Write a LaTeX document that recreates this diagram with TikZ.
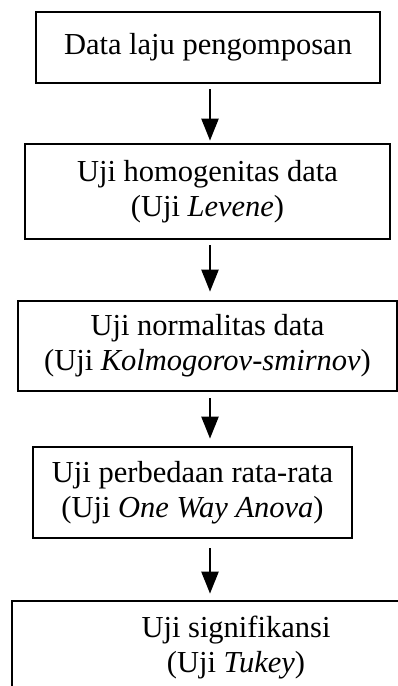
\documentclass[tikz,border=0pt]{standalone}
\usepackage{fontspec}
\setmainfont{Liberation Serif}
\usetikzlibrary{arrows.meta}
\begin{document}
\begin{tikzpicture}[x=1pt,y=-1pt,
  box/.style={draw=black,line width=2.7pt,inner sep=0pt,align=center,
    font=\fontsize{30.5}{35}\selectfont},
  arr/.style={line width=2.2pt,-{Triangle[width=17pt,length=22pt]}}]
\useasboundingbox (0,0) rectangle (398,686);
\node[box,minimum width=344pt,minimum height=71pt] (b1) at (208,47.5) {Data laju pengomposan};
\node[box,minimum width=365pt,minimum height=95pt] (b2) at (207.5,191.5) {Uji homogenitas data\\(Uji \textit{Levene})};
\node[box,minimum width=379pt,minimum height=90pt] (b3) at (207.5,346) {Uji normalitas data\\(Uji \textit{Kolmogorov-smirnov})};
\node[box,minimum width=319pt,minimum height=91pt] (b4) at (192.5,492.5) {Uji perbedaan rata-rata\\(Uji \textit{One Way Anova})};
\node[box,minimum width=448pt,minimum height=94pt] (b5) at (236,648) {Uji signifikansi\\(Uji \textit{Tukey})};
\coordinate (ax) at (210,0);
\draw[arr,shorten <=5pt,shorten >=2pt] (b1.south -| ax) -- (b2.north -| ax);
\draw[arr,shorten <=5pt,shorten >=8pt] (b2.south -| ax) -- (b3.north -| ax);
\draw[arr,shorten <=6pt,shorten >=7pt] (b3.south -| ax) -- (b4.north -| ax);
\draw[arr,shorten <=9pt,shorten >=6pt] (b4.south -| ax) -- (b5.north -| ax);
\end{tikzpicture}
\end{document}
